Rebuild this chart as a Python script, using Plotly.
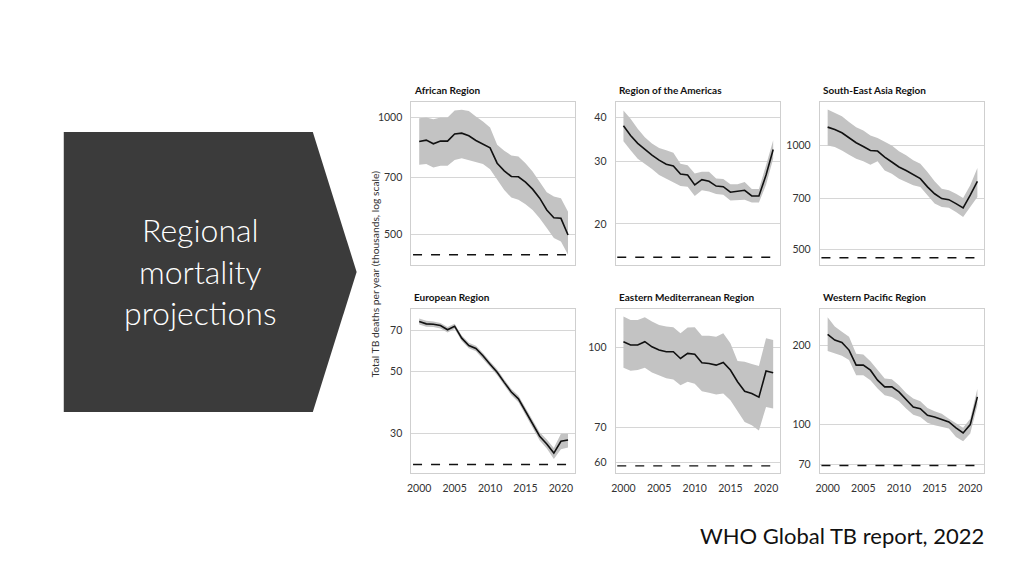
import plotly.graph_objects as go
from plotly.subplots import make_subplots

W, H = 1024, 576

years = list(range(2000, 2022))

regions = [
    "African Region", "Region of the Americas", "South-East Asia Region",
    "European Region", "Eastern Mediterranean Region", "Western Pacific Region",
]

# best estimate, upper and lower bound (thousands)
afr_best = [867, 874, 855, 869, 869, 907, 911, 897, 872, 855, 835, 762,
            728, 704, 703, 681, 653, 619, 577, 551, 549, 497]
afr_hi = [996, 1000, 990, 1000, 1000, 1043, 1047, 1040, 1006, 977, 942, 850,
          820, 798, 793, 762, 725, 683, 641, 625, 619, 571]
afr_lo = [755, 758, 743, 751, 751, 777, 785, 774, 767, 758, 735, 690,
          650, 621, 613, 597, 577, 549, 518, 488, 478, 442]

amr_best = [37.9, 35.6, 33.8, 32.5, 31.3, 30.3, 29.5, 29.2, 27.7, 27.5, 25.8,
            26.7, 26.4, 25.6, 25.5, 24.6, 24.7, 24.9, 24.0, 24.0, 27.5, 32.5]
amr_hi = [41.9, 39.7, 37.2, 35.2, 33.8, 32.8, 32.3, 31.8, 29.6, 29.3, 27.8,
          28.1, 28.1, 26.9, 26.8, 25.9, 25.9, 26.3, 25.1, 25.1, 29.3, 34.5]
amr_lo = [34.3, 32.3, 30.6, 29.6, 28.6, 27.5, 26.8, 26.2, 25.6, 25.5, 24.0,
          24.9, 24.7, 24.3, 24.2, 23.3, 23.3, 23.4, 23.0, 23.0, 25.8, 30.6]

sea_best = [1130, 1112, 1088, 1052, 1018, 993, 967, 963, 925, 895, 866,
            846, 822, 801, 758, 724, 701, 696, 678, 659, 717, 787]
sea_hi = [1271, 1243, 1216, 1169, 1130, 1105, 1069, 1050, 1023, 1000, 961,
          936, 905, 885, 837, 787, 749, 741, 724, 704, 766, 860]
sea_lo = [1000, 989, 967, 940, 915, 899, 879, 899, 846, 828, 801,
          783, 766, 758, 717, 678, 663, 659, 641, 620, 663, 708]

eur_best = [75.6, 74.1, 73.9, 73.1, 70.6, 72.7, 65.9, 62.0, 60.5, 57.0, 53.2,
            49.8, 45.8, 42.3, 40.0, 36.1, 32.8, 29.4, 27.6, 25.6, 28.2, 28.5]
eur_hi = [77.5, 76.0, 75.5, 74.6, 72.2, 74.2, 67.4, 63.4, 61.9, 58.3, 54.4,
          51.0, 46.9, 43.4, 41.1, 37.2, 33.9, 30.4, 28.6, 26.7, 30.0, 30.0]
eur_lo = [73.8, 72.3, 72.2, 71.4, 69.0, 71.1, 64.4, 60.6, 59.1, 55.7, 52.0,
          48.6, 44.7, 41.2, 38.9, 35.0, 31.7, 28.4, 26.6, 24.4, 26.4, 26.8]

emr_best = [102.7, 101.2, 101.2, 102.7, 100.4, 99.0, 98.2, 98.2, 95.3, 97.5, 97.1,
            93.5, 93.2, 92.5, 93.6, 90.5, 85.9, 82.3, 81.5, 80.2, 90.1, 89.4]
emr_hi = [114.9, 113.2, 113.2, 114.6, 112.4, 110.7, 109.9, 109.5, 106.6, 109.4, 109.5,
          105.5, 105.5, 105.0, 106.6, 102.0, 94.2, 93.9, 93.0, 92.1, 104.3, 103.5]
emr_lo = [91.4, 90.2, 90.5, 91.4, 89.5, 88.2, 87.2, 86.8, 84.6, 85.9, 85.1,
          82.3, 81.8, 81.1, 81.5, 79.1, 75.3, 71.8, 70.7, 69.1, 76.7, 76.2]

wpr_best = [221.2, 210.3, 206.0, 192.5, 168.5, 168.5, 161.2, 147.6, 139.1, 139.1, 133.1,
            124.3, 116.5, 114.8, 108.2, 106.6, 104.5, 102.1, 96.8, 92.6, 99.7, 127.3]
wpr_hi = [257.0, 236.9, 226.3, 216.6, 186.3, 185.2, 174.6, 161.2, 149.8, 148.9, 141.2,
          131.9, 125.4, 122.5, 115.5, 112.1, 109.8, 105.0, 100.6, 97.0, 105.0, 136.9]
wpr_lo = [190.8, 186.9, 183.0, 176.2, 154.3, 154.3, 147.6, 137.0, 129.2, 127.3, 122.5,
          114.8, 108.8, 106.6, 101.4, 99.1, 97.6, 96.3, 89.4, 86.0, 92.1, 118.2]

# dashed reference level per region
milestones = [442, 16.1, 472, 23.3, 59.0, 69.5]

# y tick values and log10 axis ranges per panel
yticks = [[500, 700, 1000], [20, 30, 40], [500, 700, 1000],
          [30, 50, 70], [60, 70, 100], [70, 100, 200]]
yranges = [[2.619, 3.040], [1.185, 1.646], [2.653, 3.126],
           [1.337, 1.923], [1.757, 2.075], [1.813, 2.442]]

series = [
    (afr_best, afr_hi, afr_lo), (amr_best, amr_hi, amr_lo), (sea_best, sea_hi, sea_lo),
    (eur_best, eur_hi, eur_lo), (emr_best, emr_hi, emr_lo), (wpr_best, wpr_hi, wpr_lo),
]

fig = make_subplots(rows=2, cols=3)

# panel boxes in pixels (left, right) and (top, bottom)
col_px = [(409, 573), (614, 779), (819, 984)]
row_px = [(102, 265), (309, 473)]

band_color = "#c3c3c3"
grid_color = "#d6d6d6"
chart_font = "Lato, Noto Sans, sans-serif"
tick_font = dict(family=chart_font, size=10.5, color="#333333")

for i, (best, hi, lo) in enumerate(series):
    r, c = i // 3 + 1, i % 3 + 1

    fig.add_trace(go.Scatter(
        x=years + years[::-1], y=hi + lo[::-1],
        fill="toself", fillcolor=band_color, line=dict(width=0),
        mode="lines", hoverinfo="skip", showlegend=False,
    ), row=r, col=c)
    fig.add_trace(go.Scatter(
        x=years, y=best, mode="lines",
        line=dict(color="#111111", width=1.6), showlegend=False,
    ), row=r, col=c)

    x0, x1 = col_px[c - 1]
    y0, y1 = row_px[r - 1]
    fig.update_xaxes(
        domain=[x0 / W, x1 / W], range=[1998.9, 2021.95],
        tickvals=[2000, 2005, 2010, 2015, 2020],
        showticklabels=(r == 2), showgrid=False, zeroline=False,
        showline=True, mirror=True, linecolor="#cfcfcf", linewidth=1,
        ticks="", ticklabelstandoff=5, tickfont=tick_font,
        row=r, col=c,
    )
    fig.update_yaxes(
        domain=[1 - y1 / H, 1 - y0 / H], type="log", range=yranges[i],
        tickvals=yticks[i], ticktext=[str(v) for v in yticks[i]],
        showgrid=True, gridcolor=grid_color, gridwidth=1, zeroline=False,
        showline=True, mirror=True, linecolor="#cfcfcf", linewidth=1,
        ticks="", ticklabelstandoff=6, tickfont=tick_font,
        row=r, col=c,
    )

    # dashed milestone line
    ax = "" if i == 0 else str(i + 1)
    fig.add_shape(
        type="line", xref=f"x{ax} domain", yref=f"y{ax}",
        x0=0.01, x1=0.97, y0=milestones[i], y1=milestones[i],
        line=dict(color="#111111", width=1.4, dash="dash"),
    )

    # panel title
    fig.add_annotation(
        text=f"<b>{regions[i]}</b>", xref="paper", yref="paper",
        x=(x0 + 1) / W, y=1 - (y0 - 12) / H, xanchor="left", yanchor="middle",
        showarrow=False, font=dict(family=chart_font, size=10, color="#111111"),
    )

# shared y-axis title
fig.add_annotation(
    text="Total TB deaths per year (thousands, log scale)",
    xref="paper", yref="paper", x=372 / W, y=1 - 274 / H,
    textangle=-90, showarrow=False, xanchor="center", yanchor="middle",
    font=dict(family=chart_font, size=10.3, color="#333333"),
)

# dark chevron on the left of the slide
pts = [(60, 132), (310, 132), (354, 272), (310, 412), (60, 412)]
path = "M " + " L ".join(f"{px / W},{1 - py / H}" for px, py in pts) + " Z"
fig.add_shape(type="path", xref="paper", yref="paper", path=path,
              fillcolor="#3b3b3b", line=dict(width=0), layer="below")

fig.add_annotation(
    text="Regional<br>mortality<br>projections",
    xref="paper", yref="paper", x=197 / W, y=1 - 271 / H,
    showarrow=False, xanchor="center", yanchor="middle", align="center",
    font=dict(family="Lato, Open Sans, sans-serif", size=32, color="#ffffff", weight=300),
)

fig.add_annotation(
    text="WHO Global TB report, 2022",
    xref="paper", yref="paper", x=986 / W, y=1 - 535 / H,
    showarrow=False, xanchor="right", yanchor="middle",
    font=dict(family="Lato, Open Sans, sans-serif", size=22, color="#111111"),
)

fig.update_layout(
    width=W, height=H,
    margin=dict(l=0, r=0, t=0, b=0),
    paper_bgcolor="#ffffff", plot_bgcolor="#ffffff",
    showlegend=False,
)

fig.write_html(
    "out.html",
    config={"displayModeBar": False},
    post_script="document.body.style.margin = '0';",
)
